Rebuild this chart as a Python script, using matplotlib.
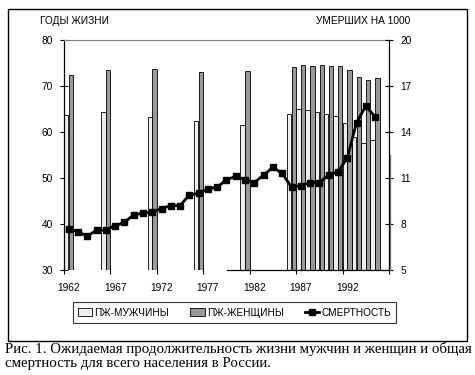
import matplotlib
matplotlib.use("Agg")
import matplotlib.pyplot as plt
import numpy as np
from matplotlib.patches import Rectangle, Patch
from matplotlib.lines import Line2D

# ---- data ----
years = list(range(1962, 1997))  # category axis 1962..1996
bar_years = [1962, 1966, 1971, 1976, 1981,
             1986, 1987, 1988, 1989, 1990, 1991, 1992, 1993, 1994, 1995]
male_le = [63.8, 64.3, 63.3, 62.4, 61.5,
           63.9, 64.9, 64.7, 64.3, 63.9, 63.4, 62.0, 59.0, 57.5, 58.3]
female_le = [72.4, 73.5, 73.7, 73.0, 73.3,
             74.1, 74.6, 74.3, 74.6, 74.3, 74.3, 73.5, 71.9, 71.2, 71.7]
mort_years = list(range(1962, 1996))
mortality = [7.7, 7.5, 7.2, 7.6, 7.6, 7.9, 8.1, 8.6, 8.7, 8.8,
             9.0, 9.2, 9.2, 9.9, 10.0, 10.3, 10.4, 10.9, 11.1, 10.9,
             10.7, 11.2, 11.7, 11.3, 10.4, 10.5, 10.7, 10.7, 11.2, 11.4,
             12.3, 14.6, 15.7, 15.0]
xtick_labels = ["1962", "1967", "1972", "1977", "1982", "1987", "1992"]
left_ticks = [30, 40, 50, 60, 70, 80]
right_ticks = [5, 8, 11, 14, 17, 20]

W, H = 475, 375
fig = plt.figure(figsize=(W / 100, H / 100), dpi=100)
fig.patch.set_facecolor("white")
SANS = ["Liberation Sans", "DejaVu Sans"]
SERIF = ["Liberation Serif", "DejaVu Serif"]
plt.rcParams["font.family"] = SANS

ax = fig.add_axes([64 / W, 1 - 270 / H, (389 - 64) / W, (270 - 40) / H])
ax2 = ax.twinx()

idx = {y: i for i, y in enumerate(years)}
bx = np.array([idx[y] for y in bar_years], dtype=float)
bw = 0.47
ax.bar(bx - 0.5, np.array(male_le) - 30, width=bw, bottom=30, align="edge",
       color="#eeeeee", edgecolor="black", linewidth=0.6, zorder=2)
ax.bar(bx + 0.02, np.array(female_le) - 30, width=bw, bottom=30, align="edge",
       color="#999999", edgecolor="black", linewidth=0.6, zorder=2)

mx = [idx[y] for y in mort_years]
ax2.plot(mx, mortality, color="black", lw=2, marker="s", markersize=4.6,
         zorder=5)

ax.set_xlim(-0.5, len(years) - 0.5)
ax.set_ylim(30, 80)
ax2.set_ylim(5, 20)
ax.set_yticks(left_ticks)
ax2.set_yticks(right_ticks)

# x ticks at category boundaries, labels at centres
ax.set_xticks(np.arange(-0.5, len(years), 5))
ax.set_xticklabels([])
ax.set_xticks(np.arange(0, 31, 5), minor=True)
ax.set_xticklabels(xtick_labels, minor=True)
ax.tick_params(axis="x", which="major", direction="inout", length=6, width=0.8)
ax.tick_params(axis="x", which="minor", length=0, pad=9.5, labelsize=7.3)
ax.tick_params(axis="y", direction="inout", length=6, width=0.8,
               labelsize=7.3, pad=5)
ax2.tick_params(axis="y", direction="inout", length=6, width=0.8,
                labelsize=7.3, pad=5)

for s in ["left", "right", "top", "bottom"]:
    ax2.spines[s].set_visible(s == "right")
ax.spines["right"].set_visible(False)
ax.spines["top"].set_color("#808080")
ax.spines["left"].set_linewidth(0.9)
ax2.spines["right"].set_linewidth(0.9)
ax.spines["bottom"].set_bounds(17.05, len(years) - 0.5)
ax.spines["bottom"].set_linewidth(0.9)

# thin grey stroke just outside the right axis
ax2.plot([1.004, 1.004], [0, 0.5], transform=ax2.transAxes, color="#808080",
         lw=1, clip_on=False)

fig.text(40 / W, 1 - 21 / H, "ГОДЫ ЖИЗНИ", fontsize=7.3, ha="left",
         va="center")
fig.text(410 / W, 1 - 21 / H, "УМЕРШИХ НА 1000", fontsize=7.3, ha="right",
         va="center")

handles = [Patch(facecolor="#eeeeee", edgecolor="black", linewidth=0.6),
           Patch(facecolor="#999999", edgecolor="black", linewidth=0.6),
           Line2D([], [], color="black", lw=2, marker="s", markersize=4.6)]
labels = ["ПЖ-МУЖЧИНЫ", "ПЖ-ЖЕНЩИНЫ", "СМЕРТНОСТЬ"]
leg = fig.legend(handles, labels, loc="center",
                 bbox_to_anchor=(234.5 / W, 1 - 312.5 / H), ncol=3,
                 fontsize=7.3, frameon=True, fancybox=False, shadow=False,
                 handlelength=1.4, handleheight=0.7, handletextpad=0.2,
                 columnspacing=2.1, borderpad=0.5, borderaxespad=0)
leg.get_frame().set_edgecolor("black")
leg.get_frame().set_linewidth(0.8)

fig.patches.append(Rectangle((8 / W, 1 - 341 / H), (467 - 8) / W,
                             (341 - 9) / H, transform=fig.transFigure,
                             fill=False, edgecolor="black", lw=1))

fig.text(5 / W, 1 - 342 / H,
         "Рис. 1. Ожидаемая продолжительность жизни мужчин и женщин и общая\n"
         "смертность для всего населения в России.",
         fontsize=10.7, family=SERIF, ha="left", va="top", linespacing=1.12)

fig.savefig("out.png", dpi=100)
